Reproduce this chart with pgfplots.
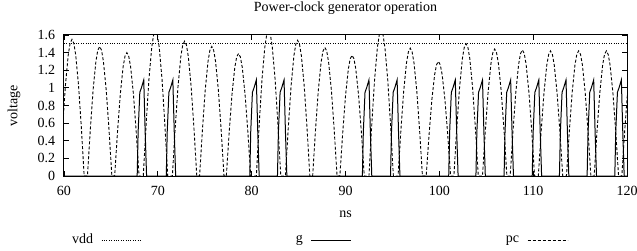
\documentclass[border=0pt]{standalone}
\usepackage{pgfplots}
\pgfplotsset{compat=1.18}
\usepackage{fontspec}
\setmainfont{Liberation Serif}
\begin{document}
\fontsize{14bp}{16bp}\selectfont
\begin{tikzpicture}
\path[use as bounding box] (-64bp,-75bp) rectangle (573bp,176bp);
\begin{axis}[
  scale only axis, width=563bp, height=141bp,
  xmin=60, xmax=120, ymin=0, ymax=1.6,
  xtick={60,70,80,90,100,110,120},
  ytick={0,0.2,0.4,0.6,0.8,1,1.2,1.4,1.6},
  tick align=inside, major tick length=5bp,
  axis line style={line width=1bp},
  every tick/.style={black, line width=0.8bp},
  /pgf/number format/assume math mode=true,
  xticklabel style={yshift=-5bp},
  yticklabel style={xshift=-4bp},
  title={Power-clock generator operation},
  title style={at={(axis description cs:0.5,1.124)}, anchor=base},
  xlabel={ns},
  xlabel style={at={(axis description cs:0.5,-0.291)}, anchor=base},
  ylabel={voltage},
  ylabel style={at={(axis description cs:-0.0888,0.5)}, anchor=center},
  legend columns=3,
  legend plot pos=right,
  legend image code/.code={\draw[#1] (0bp,0bp) -- (40bp,0bp);},
  legend style={draw=none, fill=none, inner sep=0pt,
    at={(axis description cs:0.0142,-0.454)}, anchor=west,
    nodes={inner sep=0pt},
    /tikz/every odd column/.append style={column sep=8bp},
    /tikz/every even column/.append style={column sep=154bp}},
]
\addplot[black, line width=0.8bp, dash pattern=on 0.8bp off 1.6bp] coordinates {(60,1.5) (120,1.5)};
\addlegendentry{vdd}
\addplot[black, line width=1bp] coordinates {
(60,0)
(67.8,0) (67.9,0.5) (68.08,0.95) (68.25,1.0) (68.5,1.09) (68.65,0.5) (68.8,0)
(70.9,0) (71.0,0.5) (71.18,0.95) (71.35,1.0) (71.6,1.09) (71.75,0.5) (71.9,0)
(79.8,0) (79.9,0.5) (80.08,0.95) (80.25,1.0) (80.5,1.09) (80.65,0.5) (80.8,0)
(82.75,0) (82.85,0.5) (83.03,0.95) (83.2,1.0) (83.45,1.09) (83.6,0.5) (83.75,0)
(91.8,0) (91.9,0.5) (92.08,0.95) (92.25,1.0) (92.5,1.09) (92.65,0.5) (92.8,0)
(94.8,0) (94.9,0.5) (95.08,0.95) (95.25,1.0) (95.5,1.09) (95.65,0.5) (95.8,0)
(101.0,0) (101.1,0.5) (101.28,0.95) (101.45,1.0) (101.7,1.09) (101.85,0.5) (102.0,0)
(103.9,0) (104.0,0.5) (104.18,0.95) (104.35,1.0) (104.6,1.09) (104.75,0.5) (104.9,0)
(106.9,0) (107.0,0.5) (107.18,0.95) (107.35,1.0) (107.6,1.09) (107.75,0.5) (107.9,0)
(109.9,0) (110.0,0.5) (110.18,0.95) (110.35,1.0) (110.6,1.09) (110.75,0.5) (110.9,0)
(112.8,0) (112.9,0.5) (113.08,0.95) (113.25,1.0) (113.5,1.09) (113.65,0.5) (113.8,0)
(115.75,0) (115.85,0.5) (116.03,0.95) (116.2,1.0) (116.45,1.09) (116.6,0.5) (116.75,0)
(118.7,0) (118.8,0.5) (118.98,0.95) (119.15,1.0) (119.4,1.09) (119.55,0.5) (119.7,0)
(120,0)
};
\addlegendentry{g}
\addplot[black, line width=0.9bp, dash pattern=on 3bp off 2bp] coordinates {
(59.55,0) (59.85,0.549) (60.15,1.028) (60.45,1.372) (60.65,1.505) (60.85,1.55) (61.05,1.505) (61.25,1.372) (61.55,1.028) (61.85,0.549) (62.15,0)
(62.5,0) (62.8,0.520) (63.1,0.975) (63.4,1.301) (63.6,1.427) (63.8,1.47) (64.0,1.427) (64.2,1.301) (64.5,0.975) (64.8,0.520) (65.1,0)
(65.4,0) (65.7,0.496) (66.0,0.928) (66.3,1.239) (66.5,1.359) (66.7,1.40) (66.9,1.359) (67.1,1.239) (67.4,0.928) (67.7,0.496) (68.0,0)
(68.45,0) (68.75,0.584) (69.05,1.094) (69.35,1.460) (69.55,1.602) (69.75,1.65) (69.95,1.602) (70.15,1.460) (70.45,1.094) (70.75,0.584) (71.05,0)
(71.55,0) (71.85,0.542) (72.15,1.014) (72.45,1.354) (72.65,1.486) (72.85,1.53) (73.05,1.486) (73.25,1.354) (73.55,1.014) (73.85,0.542) (74.15,0)
(74.45,0) (74.75,0.520) (75.05,0.975) (75.35,1.301) (75.55,1.427) (75.75,1.47) (75.95,1.427) (76.15,1.301) (76.45,0.975) (76.75,0.520) (77.05,0)
(77.3,0) (77.6,0.492) (77.9,0.922) (78.2,1.230) (78.4,1.350) (78.6,1.39) (78.8,1.350) (79.0,1.230) (79.3,0.922) (79.6,0.492) (79.9,0)
(80.5,0) (80.8,0.584) (81.1,1.094) (81.4,1.460) (81.6,1.602) (81.8,1.65) (82.0,1.602) (82.2,1.460) (82.5,1.094) (82.8,0.584) (83.1,0)
(83.6,0) (83.9,0.545) (84.2,1.021) (84.5,1.363) (84.7,1.495) (84.9,1.54) (85.1,1.495) (85.3,1.363) (85.6,1.021) (85.9,0.545) (86.2,0)
(86.5,0) (86.8,0.517) (87.1,0.968) (87.4,1.292) (87.6,1.418) (87.8,1.46) (88.0,1.418) (88.2,1.292) (88.5,0.968) (88.8,0.517) (89.1,0)
(89.4,0) (89.7,0.485) (90.0,0.908) (90.3,1.212) (90.5,1.330) (90.7,1.37) (90.9,1.330) (91.1,1.212) (91.4,0.908) (91.7,0.485) (92.0,0)
(92.5,0) (92.8,0.584) (93.1,1.094) (93.4,1.460) (93.6,1.602) (93.8,1.65) (94.0,1.602) (94.2,1.460) (94.5,1.094) (94.8,0.584) (95.1,0)
(95.6,0) (95.9,0.513) (96.2,0.961) (96.5,1.283) (96.7,1.408) (96.9,1.45) (97.1,1.408) (97.3,1.283) (97.6,0.961) (97.9,0.513) (98.2,0)
(98.6,0) (98.9,0.460) (99.2,0.862) (99.5,1.151) (99.7,1.262) (99.9,1.30) (100.1,1.262) (100.3,1.151) (100.6,0.862) (100.9,0.460) (101.2,0)
(101.55,0) (101.85,0.531) (102.15,0.995) (102.45,1.328) (102.65,1.457) (102.85,1.50) (103.05,1.457) (103.25,1.328) (103.55,0.995) (103.85,0.531) (104.15,0)
(104.6,0) (104.9,0.510) (105.2,0.955) (105.5,1.274) (105.7,1.398) (105.9,1.44) (106.1,1.398) (106.3,1.274) (106.6,0.955) (106.9,0.510) (107.2,0)
(107.55,0) (107.85,0.506) (108.15,0.948) (108.45,1.266) (108.65,1.389) (108.85,1.43) (109.05,1.389) (109.25,1.266) (109.55,0.948) (109.85,0.506) (110.15,0)
(110.55,0) (110.85,0.503) (111.15,0.941) (111.45,1.257) (111.65,1.379) (111.85,1.42) (112.05,1.379) (112.25,1.257) (112.55,0.941) (112.85,0.503) (113.15,0)
(113.55,0) (113.85,0.503) (114.15,0.941) (114.45,1.257) (114.65,1.379) (114.85,1.42) (115.05,1.379) (115.25,1.257) (115.55,0.941) (115.85,0.503) (116.15,0)
(116.5,0) (116.8,0.503) (117.1,0.941) (117.4,1.257) (117.6,1.379) (117.8,1.42) (118.0,1.379) (118.2,1.257) (118.5,0.941) (118.8,0.503) (119.1,0)
(119.45,0) (119.75,0.503) (120.05,0.941) (120.35,1.257)
};
\addlegendentry{pc}
\end{axis}
\end{tikzpicture}
\end{document}
